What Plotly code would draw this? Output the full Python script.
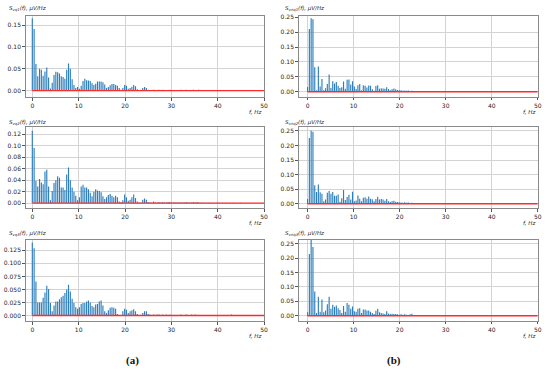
import plotly.graph_objects as go

# Frequency grid: fs = 100 Hz, N = 256 -> df = 0.390625 Hz, Nyquist 50 Hz
DF_HZ = 100 / 256
NYQ_HZ = 50
X_TICKS = [0, 10, 20, 30, 40, 50]

S_VQ1 = [
    0.166, 0.141, 0.061, 0.033, 0.050, 0.048, 0.034, 0.044, 0.053, 0.030,
    0.005, 0.018, 0.036, 0.043, 0.042, 0.039, 0.033, 0.031, 0.027, 0.048,
    0.062, 0.050, 0.026, 0.013, 0.006, 0.008, 0.004, 0.011, 0.022, 0.027,
    0.024, 0.023, 0.022, 0.017, 0.013, 0.016, 0.021, 0.021, 0.021, 0.019,
    0.014, 0.006, 0.008, 0.012, 0.015, 0.015, 0.013, 0.011, 0.006, 0.002,
    0.006, 0.013, 0.011, 0.004, 0.006, 0.009, 0.013, 0.010, 0.003, 0.001,
    0.002, 0.006, 0.008, 0.006, 0.002, 0.001, 0.001, 0.002, 0.001, 0.001,
    0.002, 0.001, 0.002, 0.001, 0.001, 0.001, 0.002, 0.001, 0.001, 0.001,
    0.001, 0.001, 0.002, 0.001, 0.001, 0.002, 0.001, 0.001, 0.001, 0.002,
    0.001, 0.001, 0.002, 0.001, 0.0006, 0.0005, 0.0004, 0.0005, 0.0006, 0.0004,
    0.0005, 0.0004, 0.0005, 0.0006, 0.0004, 0.0005, 0.0004, 0.0005, 0.0004, 0.0005,
    0.0004, 0.0005, 0.0004, 0.0003, 0.0004, 0.0005, 0.0004, 0.0003, 0.0004, 0.0003,
    0.0004, 0.0003, 0.0004, 0.0003, 0.0003, 0.0004, 0.0003, 0.0003, 0.0002,
]

S_VNQ1 = [
    0.016, 0.210, 0.246, 0.243, 0.082, 0.005, 0.085, 0.018, 0.043, 0.005,
    0.012, 0.026, 0.058, 0.013, 0.035, 0.028, 0.033, 0.020, 0.013, 0.015,
    0.034, 0.010, 0.040, 0.041, 0.024, 0.035, 0.018, 0.009, 0.022, 0.026,
    0.005, 0.022, 0.020, 0.014, 0.021, 0.020, 0.008, 0.003, 0.019, 0.022,
    0.010, 0.012, 0.011, 0.010, 0.015, 0.009, 0.005, 0.008, 0.011, 0.008,
    0.006, 0.005, 0.005, 0.003, 0.004, 0.003, 0.004, 0.002, 0.003, 0.002,
    0.001, 0.001, 0.001, 0.001, 0.001, 0.002, 0.001, 0.001, 0.0005, 0.0005,
    0.0006, 0.0005, 0.0004, 0.0005, 0.0006, 0.0004, 0.0005, 0.0004, 0.0005, 0.0004,
    0.0005, 0.0004, 0.0005, 0.0004, 0.0003, 0.0004, 0.0005, 0.0004, 0.0003, 0.0004,
    0.0004, 0.0003, 0.0004, 0.0003, 0.0004, 0.0003, 0.0004, 0.0003, 0.0003, 0.0004,
    0.0003, 0.0003, 0.0004, 0.0003, 0.0003, 0.0002, 0.0003, 0.0003, 0.0002, 0.0003,
    0.0003, 0.0002, 0.0003, 0.0002, 0.0003, 0.0002, 0.0002, 0.0003, 0.0002, 0.0002,
    0.0002, 0.0003, 0.0002, 0.0002, 0.0002, 0.0002, 0.0002, 0.0002, 0.0002,
]

S_VQ2 = [
    0.126, 0.096, 0.039, 0.029, 0.042, 0.036, 0.033, 0.055, 0.058, 0.029,
    0.005, 0.021, 0.035, 0.040, 0.047, 0.044, 0.027, 0.027, 0.023, 0.050,
    0.062, 0.040, 0.027, 0.020, 0.013, 0.005, 0.010, 0.029, 0.032, 0.027,
    0.027, 0.024, 0.018, 0.012, 0.020, 0.024, 0.022, 0.021, 0.019, 0.012,
    0.007, 0.010, 0.014, 0.016, 0.013, 0.010, 0.013, 0.010, 0.003, 0.002,
    0.005, 0.015, 0.010, 0.004, 0.006, 0.010, 0.015, 0.009, 0.003, 0.001,
    0.001, 0.006, 0.008, 0.006, 0.002, 0.001, 0.001, 0.003, 0.001, 0.001,
    0.002, 0.001, 0.002, 0.001, 0.001, 0.002, 0.002, 0.001, 0.001, 0.001,
    0.001, 0.001, 0.001, 0.001, 0.001, 0.002, 0.001, 0.001, 0.001, 0.002,
    0.001, 0.002, 0.001, 0.0005, 0.0006, 0.0005, 0.0004, 0.0005, 0.0006, 0.0004,
    0.0005, 0.0004, 0.0005, 0.0006, 0.0004, 0.0005, 0.0004, 0.0005, 0.0004, 0.0005,
    0.0004, 0.0005, 0.0004, 0.0003, 0.0004, 0.0005, 0.0004, 0.0003, 0.0004, 0.0003,
    0.0004, 0.0003, 0.0004, 0.0003, 0.0003, 0.0004, 0.0003, 0.0003, 0.0002,
]

S_VNQ2 = [
    0.016, 0.226, 0.251, 0.247, 0.063, 0.040, 0.066, 0.039, 0.034, 0.008,
    0.014, 0.038, 0.044, 0.034, 0.040, 0.027, 0.027, 0.032, 0.007, 0.019,
    0.047, 0.013, 0.023, 0.031, 0.014, 0.041, 0.008, 0.011, 0.028, 0.017,
    0.008, 0.020, 0.022, 0.017, 0.025, 0.017, 0.015, 0.008, 0.016, 0.024,
    0.014, 0.016, 0.014, 0.010, 0.016, 0.008, 0.006, 0.008, 0.010, 0.007,
    0.006, 0.005, 0.004, 0.003, 0.005, 0.003, 0.004, 0.002, 0.003, 0.002,
    0.001, 0.001, 0.001, 0.0005, 0.001, 0.002, 0.001, 0.0005, 0.0006, 0.0005,
    0.0006, 0.0005, 0.0004, 0.0005, 0.0006, 0.0004, 0.0005, 0.0004, 0.0005, 0.0004,
    0.0005, 0.0004, 0.0005, 0.0004, 0.0003, 0.0004, 0.0005, 0.0004, 0.0003, 0.0004,
    0.0004, 0.0003, 0.0004, 0.0003, 0.0004, 0.0003, 0.0004, 0.0003, 0.0003, 0.0004,
    0.0003, 0.0003, 0.0004, 0.0003, 0.0003, 0.0002, 0.0003, 0.0003, 0.0002, 0.0003,
    0.0003, 0.0002, 0.0003, 0.0002, 0.0003, 0.0002, 0.0002, 0.0003, 0.0002, 0.0002,
    0.0002, 0.0003, 0.0002, 0.0002, 0.0002, 0.0002, 0.0002, 0.0002, 0.0002,
]

S_VQ3 = [
    0.140, 0.129, 0.065, 0.025, 0.025, 0.025, 0.034, 0.044, 0.057, 0.051,
    0.024, 0.008, 0.019, 0.027, 0.027, 0.031, 0.035, 0.038, 0.043, 0.050,
    0.059, 0.046, 0.032, 0.024, 0.016, 0.013, 0.016, 0.022, 0.024, 0.024,
    0.027, 0.029, 0.025, 0.018, 0.016, 0.021, 0.022, 0.027, 0.029, 0.019,
    0.008, 0.005, 0.010, 0.015, 0.016, 0.015, 0.013, 0.003, 0.001, 0.001,
    0.008, 0.013, 0.011, 0.005, 0.008, 0.010, 0.012, 0.008, 0.003, 0.001,
    0.001, 0.005, 0.008, 0.008, 0.003, 0.002, 0.001, 0.002, 0.001, 0.002,
    0.002, 0.001, 0.002, 0.001, 0.002, 0.001, 0.002, 0.001, 0.001, 0.001,
    0.001, 0.001, 0.002, 0.001, 0.001, 0.002, 0.001, 0.001, 0.002, 0.001,
    0.002, 0.001, 0.0005, 0.0006, 0.0005, 0.0004, 0.0005, 0.0006, 0.0004, 0.0005,
    0.0004, 0.0005, 0.0006, 0.0004, 0.0005, 0.0004, 0.0005, 0.0004, 0.0005, 0.0004,
    0.002, 0.0005, 0.0004, 0.0003, 0.0004, 0.0005, 0.0004, 0.0003, 0.0004, 0.0003,
    0.0004, 0.0003, 0.0004, 0.0003, 0.0003, 0.0004, 0.0003, 0.0003, 0.0002,
]

S_VNQ3 = [
    0.012, 0.214, 0.262, 0.238, 0.084, 0.010, 0.066, 0.014, 0.056, 0.012,
    0.018, 0.040, 0.066, 0.024, 0.038, 0.031, 0.036, 0.026, 0.020, 0.010,
    0.034, 0.014, 0.044, 0.038, 0.024, 0.032, 0.016, 0.014, 0.024, 0.026,
    0.010, 0.022, 0.022, 0.018, 0.018, 0.014, 0.010, 0.006, 0.017, 0.024,
    0.012, 0.010, 0.008, 0.006, 0.016, 0.008, 0.006, 0.007, 0.006, 0.006,
    0.005, 0.004, 0.005, 0.004, 0.005, 0.004, 0.003, 0.005, 0.007, 0.002,
    0.001, 0.001, 0.001, 0.001, 0.001, 0.002, 0.001, 0.0005, 0.0006, 0.0005,
    0.0006, 0.0005, 0.0004, 0.0005, 0.0006, 0.0004, 0.0005, 0.0004, 0.0005, 0.0004,
    0.0005, 0.0004, 0.0005, 0.0004, 0.0003, 0.0004, 0.0005, 0.0004, 0.0003, 0.0004,
    0.0004, 0.0003, 0.0004, 0.0003, 0.0004, 0.0003, 0.0004, 0.0003, 0.0003, 0.0004,
    0.0003, 0.0003, 0.0004, 0.0003, 0.0003, 0.0002, 0.0003, 0.0003, 0.0002, 0.0003,
    0.0003, 0.0002, 0.0003, 0.0002, 0.0003, 0.0002, 0.0002, 0.0003, 0.0002, 0.0002,
    0.0002, 0.0003, 0.0002, 0.0002, 0.0002, 0.0002, 0.0002, 0.0002, 0.0002,
]

Y_TICKS_VQ1 = [0.00, 0.05, 0.10, 0.15]
Y_TICKS_VQ2 = [0.00, 0.02, 0.04, 0.06, 0.08, 0.10, 0.12]
Y_TICKS_VQ3 = [0.000, 0.025, 0.050, 0.075, 0.100, 0.125]
Y_TICKS_VNQ = [0.00, 0.05, 0.10, 0.15, 0.20, 0.25]

W, H = 550, 376

panels = [
    dict(vals=S_VQ1, sub="vq1", yt=Y_TICKS_VQ1, dec=2, yr=[-0.0145, 0.1705],
         box=(26, 266, 13.3, 94.7), lab=(7, 5.5), xr=[-1.4, 50]),
    dict(vals=S_VNQ1, sub="vnq1", yt=Y_TICKS_VNQ, dec=2, yr=[-0.0167, 0.2533],
         box=(301, 541.7, 13.3, 94.5), lab=(285, 5.5), xr=[-1.9, 50]),
    dict(vals=S_VQ2, sub="vq2", yt=Y_TICKS_VQ2, dec=2, yr=[-0.0086, 0.1326],
         box=(26, 266, 125, 206.7), lab=(7, 120), xr=[-1.4, 50]),
    dict(vals=S_VNQ2, sub="vnq2", yt=Y_TICKS_VNQ, dec=2, yr=[-0.015, 0.2637],
         box=(301, 541.7, 125, 206.7), lab=(285, 120), xr=[-1.9, 50]),
    dict(vals=S_VQ3, sub="vq3", yt=Y_TICKS_VQ3, dec=3, yr=[-0.0108, 0.1446],
         box=(26, 266, 239, 320.7), lab=(7, 232.5), xr=[-1.4, 50]),
    dict(vals=S_VNQ3, sub="vnq3", yt=Y_TICKS_VNQ, dec=2, yr=[-0.0172, 0.2638],
         box=(301, 541.7, 238.5, 320.3), lab=(285, 232.5), xr=[-1.9, 50]),
]

STEM_COLOR = "#2c7fbc"
BASE_COLOR = "#ff2a2a"
FRAME = "#8a8a8a"
GRID = "#d3d3d3"
TXT = "#262626"
FONT = "DejaVu Sans"

fig = go.Figure()
annotations = []
layout = {}

for i, p in enumerate(panels, start=1):
    vals = p["vals"]
    freqs = [k * DF_HZ for k in range(len(vals))]
    xa = "x" if i == 1 else f"x{i}"
    ya = "y" if i == 1 else f"y{i}"
    # stems: error bars from each value down to the zero baseline
    fig.add_trace(go.Scatter(
        x=freqs, y=vals, mode="markers", xaxis=xa, yaxis=ya,
        marker=dict(size=1, color="rgba(0,0,0,0)"),
        error_y=dict(type="data", symmetric=False, array=[0] * len(vals),
                     arrayminus=vals, width=0, thickness=1.15, color=STEM_COLOR),
        showlegend=False, hoverinfo="skip",
    ))
    fig.add_trace(go.Scatter(
        x=[0, NYQ_HZ], y=[0, 0], mode="lines", xaxis=xa, yaxis=ya,
        line=dict(color=BASE_COLOR, width=1.4), showlegend=False, hoverinfo="skip",
    ))
    x0, x1, ytop, ybot = p["box"]
    common = dict(
        showgrid=True, gridcolor=GRID, gridwidth=0.8, zeroline=False,
        showline=True, linecolor=FRAME, linewidth=1.3, mirror=True,
        ticks="outside", ticklen=2.5, tickwidth=0.8, tickcolor="#555",
        tickfont=dict(family=FONT, size=6, color=TXT),
    )
    layout["xaxis" if i == 1 else f"xaxis{i}"] = dict(
        domain=[x0 / W, x1 / W], range=p["xr"], anchor=ya,
        tickmode="array", tickvals=X_TICKS, ticktext=[str(t) for t in X_TICKS],
        **common,
    )
    fmt = "{:.%df}" % p["dec"]
    layout["yaxis" if i == 1 else f"yaxis{i}"] = dict(
        domain=[1 - ybot / H, 1 - ytop / H], range=p["yr"], anchor=xa,
        tickmode="array", tickvals=p["yt"], ticktext=[fmt.format(v) for v in p["yt"]],
        **common,
    )
    lx, ly = p["lab"]
    annotations.append(dict(
        text=f"<i>S</i><sub><i>{p['sub']}</i></sub><i>(f), μV/Hz</i>",
        xref="paper", yref="paper", x=lx / W, y=1 - ly / H,
        xanchor="left", yanchor="middle", showarrow=False,
        font=dict(family=FONT, size=5.5, color=TXT),
    ))
    annotations.append(dict(
        text="<i>f, Hz</i>", xref="paper", yref="paper",
        x=(x1 - 1) / W, y=1 - (ybot + 15) / H,
        xanchor="right", yanchor="middle", showarrow=False,
        font=dict(family=FONT, size=5.5, color=TXT),
    ))

for txt, cx in (("(a)", 133), ("(b)", 397)):
    annotations.append(dict(
        text=f"<b>{txt}</b>", xref="paper", yref="paper",
        x=cx / W, y=1 - 360 / H, xanchor="center", yanchor="middle",
        showarrow=False, font=dict(family="Liberation Serif", size=11, color="#111"),
    ))

fig.update_layout(
    width=W, height=H, margin=dict(l=0, r=0, t=0, b=0),
    paper_bgcolor="white", plot_bgcolor="white",
    annotations=annotations, **layout,
)

fig.write_html(
    "out.html",
    config={"displayModeBar": False},
    post_script="document.body.style.margin='0px';document.body.style.overflow='hidden';",
)
